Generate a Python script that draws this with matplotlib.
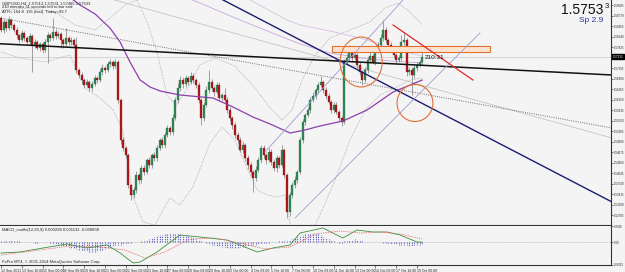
import numpy as np
import matplotlib
matplotlib.use("Agg")
import matplotlib.pyplot as plt
from matplotlib.patches import Rectangle, Ellipse

plt.rcParams['font.family'] = ['Liberation Sans', 'DejaVu Sans']

# ---------------- DATA ----------------
first_open = 1.5870
closes = [
    # 12-16 Sep
    1.5834, 1.5858, 1.5840, 1.5864, 1.5849, 1.5834, 1.5819, 1.5804, 1.5825, 1.5810,
    1.5798, 1.5816, 1.5789, 1.5798, 1.5780, 1.5792, 1.5774, 1.5798, 1.5819, 1.5810,
    1.5828, 1.5816, 1.5822, 1.5804, 1.5792, 1.5810, 1.5798, 1.5804, 1.5789,
    # 19-21 Sep
    1.5714, 1.5699, 1.5684, 1.5669, 1.5678, 1.5660, 1.5672, 1.5690, 1.5684, 1.5708,
    1.5720, 1.5714, 1.5732, 1.5738, 1.5726, 1.5738,
    # 21-28 Sep
    1.5624, 1.5504, 1.5480, 1.5459, 1.5369, 1.5339, 1.5354, 1.5399, 1.5384, 1.5420,
    1.5408, 1.5444, 1.5429, 1.5459, 1.5450, 1.5480, 1.5504, 1.5489, 1.5519, 1.5540,
    1.5528, 1.5570, 1.5624, 1.5660, 1.5684, 1.5672, 1.5690, 1.5678, 1.5696, 1.5684,
    1.5669,
    # 29 Sep - 4 Oct
    1.5624, 1.5570, 1.5609, 1.5654, 1.5678, 1.5660, 1.5648, 1.5669, 1.5630, 1.5639,
    1.5624, 1.5594, 1.5570, 1.5549, 1.5519, 1.5504, 1.5474, 1.5489, 1.5450, 1.5429,
    1.5408, 1.5390, 1.5414, 1.5444,
    # 5-7 Oct
    1.5480, 1.5459, 1.5444, 1.5468, 1.5438, 1.5420, 1.5450, 1.5429, 1.5474, 1.5399,
    1.5288, 1.5339, 1.5369, 1.5384, 1.5408,
    # 7-12 Oct
    1.5504, 1.5558, 1.5579, 1.5594, 1.5624, 1.5636, 1.5654, 1.5669, 1.5678, 1.5654,
    1.5636, 1.5618, 1.5594, 1.5609, 1.5588, 1.5570, 1.5558,
    # 12-19 Oct
    1.5738, 1.5750, 1.5768, 1.5750, 1.5759, 1.5729, 1.5708, 1.5684, 1.5714, 1.5744,
    1.5756, 1.5738, 1.5774, 1.5789, 1.5810, 1.5834, 1.5804, 1.5789, 1.5774, 1.5759,
    1.5744, 1.5750, 1.5798, 1.5804, 1.5708, 1.5714, 1.5699, 1.5720, 1.5729, 1.5738,
    1.5753,
]
# wick lengths in pips beyond the body
upper_wick = [
    5, 8, 6, 12, 6, 5, 8, 4, 10, 6, 5, 8, 6, 9, 5, 7, 6, 10, 8, 6, 42, 8, 10, 6, 5, 30, 6, 8, 5,
    25, 6, 8, 5, 9, 6, 8, 10, 6, 8, 12, 6, 10, 8, 6, 10,
    6, 5, 8, 6, 5, 4, 10, 12, 6, 8, 10, 6, 9, 7, 10, 8, 6, 9, 8, 10, 6, 12, 10, 15, 12, 8, 10, 6, 12, 8, 6,
    8, 6, 10, 12, 36, 8, 6, 10, 8, 6, 21, 8, 10, 6, 8, 10, 8, 12, 6, 8, 10, 6, 12, 10,
    10, 8, 6, 12, 8, 10, 8, 6, 15, 5, 6, 10, 8, 12, 6,
    8, 10, 6, 8, 10, 12, 6, 8, 18, 6, 8, 10, 6, 8, 10, 6, 5,
    10, 12, 21, 8, 10, 6, 8, 6, 10, 8, 12, 6, 10, 8, 12, 30, 8, 6, 10, 8, 6, 10, 21, 24, 6, 10, 8, 10, 8, 6, 21,
]
lower_wick = [
    6, 8, 10, 5, 8, 6, 10, 8, 5, 10, 6, 8, 80, 9, 6, 8, 10, 5, 63, 8, 6, 10, 7, 25, 12, 6, 8, 10, 7,
    8, 10, 12, 8, 6, 10, 8, 6, 9, 6, 8, 10, 6, 8, 9, 6,
    10, 12, 8, 10, 10, 15, 8, 10, 12, 8, 10, 6, 9, 8, 10, 8, 7, 9, 8, 6, 10, 8, 6, 8, 10, 12, 8, 10, 6, 8, 10,
    10, 21, 8, 6, 10, 8, 12, 6, 10, 8, 6, 10, 8, 12, 10, 8, 6, 10, 8, 12, 10, 42, 8, 6,
    8, 10, 12, 6, 10, 8, 12, 10, 6, 10, 18, 12, 8, 10, 8,
    6, 8, 10, 6, 8, 6, 10, 8, 6, 10, 8, 6, 10, 8, 6, 8, 12,
    6, 8, 10, 12, 6, 10, 8, 15, 6, 10, 8, 6, 10, 8, 6, 8, 10, 12, 6, 10, 8, 6, 10, 8, 12, 10, 60, 8, 10, 6, 8,
]
bid = 1.57533

# moving averages (bar, price)
ma_purple_bars = [22.7, 30.4, 36.2, 41.9, 45.8, 49.6, 53.5, 57.3, 61.2, 68.8, 81.5, 89.2, 96.9,
                  103.5, 111.2, 116.9, 122.7, 131.5, 140.8, 150.8, 162.0]
ma_purple_vals = [1.5954, 1.5909, 1.5882, 1.5840, 1.5798, 1.5738, 1.5684, 1.5663, 1.5651, 1.5639,
                  1.5630, 1.5603, 1.5573, 1.5552, 1.5525, 1.5534, 1.5546, 1.5561, 1.5594, 1.5648, 1.5684]
ma_light_a_bars = [68.8, 76.5, 91.9, 115.0, 126.5, 138.1, 149.6, 162.0]
ma_light_a_vals = [1.5939, 1.5915, 1.5864, 1.5792, 1.5765, 1.5750, 1.5741, 1.5735]
ma_light_b_bars = [91.9, 95.8, 110.0, 115.0, 126.5, 138.1, 152.3, 162.0]
ma_light_b_vals = [1.5939, 1.5924, 1.5864, 1.5849, 1.5831, 1.5810, 1.5774, 1.5756]

# envelope bands (bar, price)
band_up_bars = [0, 11.2, 20.8, 28.5, 36.2, 41.9, 47.7, 52.3, 56.2, 60.0, 63.8, 67.3, 71.9, 76.5,
                82.3, 90.0, 97.7, 103.5, 108.1, 111.9, 115.8, 120.8, 126.5, 134.2, 141.9, 147.7,
                152.7, 157.3, 162.0]
band_up_vals = [1.5894, 1.5900, 1.5888, 1.5849, 1.5834, 1.5870, 1.5909, 1.5924, 1.5858, 1.5768,
                1.5639, 1.5609, 1.5660, 1.5729, 1.5750, 1.5726, 1.5660, 1.5600, 1.5564, 1.5594,
                1.5684, 1.5759, 1.5810, 1.5834, 1.5858, 1.5900, 1.5915, 1.5888, 1.5849]
band_lo_bars = [0, 7.3, 16.9, 26.5, 32.3, 38.1, 43.1, 46.9, 50.8, 54.6, 59.2, 62.3, 65.0, 68.8,
                73.8, 80.4, 85.0, 90.0, 94.6, 98.5, 102.3, 106.2, 109.2, 111.9, 115.0, 118.8,
                122.7, 128.5, 134.2, 140.0, 145.8, 151.5, 157.3, 162.0]
band_lo_vals = [1.5768, 1.5750, 1.5738, 1.5759, 1.5660, 1.5630, 1.5594, 1.5534, 1.5333, 1.5258,
                1.5249, 1.5294, 1.5330, 1.5309, 1.5363, 1.5495, 1.5543, 1.5504, 1.5420, 1.5354,
                1.5339, 1.5333, 1.5339, 1.5219, 1.5189, 1.5219, 1.5279, 1.5384, 1.5504, 1.5594,
                1.5639, 1.5660, 1.5684, 1.5690]

# drawn objects (bar, price)
black_trend = ([-1, 235], [1.5793, 1.5699])
navy_trend = ([80, 235], [1.5946, 1.5318])
dotted_trend = ([-1, 235], [1.5871, 1.5540])
light_trend = ([40, 235], [1.5932, 1.5510])
channel_upper = ([101.5, 154.6], [1.5468, 1.5924])
channel_lower = ([113.1, 184.2], [1.5270, 1.5825])
red_trend = ([150.8, 181.5], [1.5849, 1.5684])
zone_bars = (127.3, 188.1)
zone_prices = (1.5768, 1.5786)
circle1 = (138.5, 1.5738, 16.2, 0.0150)
circle2 = (159.2, 1.5615, 13.8, 0.0111)

# MACD panel
macd_hist = [
    1, 1, 1, 1, 2, 1, 1, 1, 0, 0, 0, 0, 0, -1, -1, 0, 0, 0, 0,
    -1, -2, -2, -3, -3, -4, -4, -5, -6, -6, -7, -8, -8, -9, -9, -10, -10, -10, -9, -9, -8, -7, -6, -5,
    -4, -3, -3, -3, -2, -2, -1, -1, 0, 0, 0, 1, 1,
    2, 3, 4, 5, 6, 7, 7, 8, 8, 9, 9, 9, 8, 8, 7, 7, 6, 5, 4, 3, 2,
    1, 0,
    -1, -2, -3, -3, -4, -4, -5, -5, -6, -6, -6, -6, -6, -5, -5, -5, -4, -4, -3, -3, -2, -2,
    -1, -1, -1, 0, 0, 0, 1, 1, 1, 1, 2,
    3, 4, 5, 6, 7, 8, 8, 9, 9, 9, 8, 7,
    5, 4, 3, 2, 1, 0, -1, -1,
    1, 1, 2, 2, 3, 2, 2, 1,
    0, 0, 0, 0, 0, 0, 0, -1,
    -1, -1, -2, -2, -2, -3, -3, -3, -3, -4, -4, -3, -3, -3, -2,
]
macd_line_bars = [0, 7.3, 16.2, 25.4, 33.1, 40.8, 45.8, 50.8, 53.5, 60, 68.8, 76.5, 86.9, 91.9,
                  98.5, 104.6, 111.2, 115, 123.8, 131.5, 136.9, 143.1, 148.5, 153.5, 160, 162]
macd_line_vals = [-0.0011, -0.0010, -0.0006, -0.0002, -0.0006, -0.0003, -0.0011, -0.0021, -0.0020,
                  -0.0010, 0.0007, 0.0005, 0.0002, -0.0003, -0.0010, -0.0006, -0.0003, 0.0009,
                  0.0014, 0.0004, 0.0012, 0.0010, 0.0010, 0.0007, 0.0000, 0.0000]
signal_bars = [0, 15, 26.5, 38, 47.7, 55.4, 63, 72.7, 82.3, 91.9, 101.5, 111.2, 120.8, 130.4,
               138.1, 145.8, 153.5, 162]
signal_vals = [-0.0013, -0.0008, -0.0004, -0.0005, -0.0008, -0.0016, -0.0010, 0.0003, 0.0004,
               -0.0001, -0.0007, -0.0005, 0.0008, 0.0011, 0.0009, 0.0010, 0.0008, 0.0003]

price_ticks = [1.59085, 1.58770, 1.58455, 1.58140, 1.57825, 1.57510, 1.57195, 1.56880, 1.56565,
               1.56250, 1.55935, 1.55620, 1.55305, 1.54990, 1.54675, 1.54360, 1.54045, 1.53730,
               1.53415, 1.53100, 1.52785]
macd_ticks = [0.0016, 0.0, -0.0023]
macd_tick_labels = ['0.0016', '0.00', '-0.0023']
date_tick_bars = list(range(0, 161, 8))
date_labels = ["12 Sep 2011", "13 Sep 16:00", "15 Sep 00:00", "16 Sep 08:00", "19 Sep 16:00",
               "21 Sep 00:00", "22 Sep 08:00", "23 Sep 16:00", "27 Sep 00:00", "28 Sep 08:00",
               "29 Sep 16:00", "3 Oct 00:00", "4 Oct 08:00", "5 Oct 16:00", "7 Oct 00:00",
               "10 Oct 08:00", "11 Oct 16:00", "13 Oct 00:00", "14 Oct 08:00", "17 Oct 16:00",
               "19 Oct 00:00"]

# ---------------- FIGURE ----------------
W, H = 625, 272
BG = '#f4f4f4'
fig = plt.figure(figsize=(W / 100, H / 100), dpi=100, facecolor=BG)


def box(x0, y0, x1, y1):
    return [x0 / W, 1 - y1 / H, (x1 - x0) / W, (y1 - y0) / H]


ax = fig.add_axes(box(0, 0, 611, 225))
axm = fig.add_axes(box(0, 226, 611, 265))
XL = (-0.385, 234.6)
for a in (ax, axm):
    a.set_facecolor(BG)
    a.set_xlim(*XL)
    for s in ('left', 'top'):
        a.spines[s].set_visible(False)
    for s in ('right', 'bottom'):
        a.spines[s].set_color('#333333')
        a.spines[s].set_linewidth(0.8)
ax.set_ylim(1.5249, 1.5924)
axm.set_ylim(-0.0023, 0.0016)

# candles
c = np.array(closes)
n = len(c)
x = np.arange(n)
o = np.r_[first_open, c[:-1]]
hi = np.maximum(o, c) + np.array(upper_wick[:n]) * 1e-4
lo = np.minimum(o, c) - np.array(lower_wick[:n]) * 1e-4
ax.vlines(x, lo, hi, color='#7a7a7a', lw=0.5, zorder=3)
h = c - o
h = np.where(np.abs(h) < 0.00006, 0.00006, h)
up = c >= o
ax.bar(x[up], h[up], bottom=o[up], width=0.72, color='#2f8a58', edgecolor='#1d5a38', lw=0.2, zorder=4)
ax.bar(x[~up], h[~up], bottom=o[~up], width=0.72, color='#b3191c', edgecolor='#6e1010', lw=0.2, zorder=4)

# bid line
ax.axhline(bid, color='#c9c9c9', lw=0.5, zorder=1)

# indicators
ax.plot(band_up_bars, band_up_vals, color='#9a9a9a', lw=0.5, ls=(0, (1, 1.2)), zorder=2)
ax.plot(band_lo_bars, band_lo_vals, color='#9a9a9a', lw=0.5, ls=(0, (1, 1.2)), zorder=2)
ax.plot(ma_light_a_bars, ma_light_a_vals, color='#c9a6db', lw=0.6, zorder=2)
ax.plot(ma_light_b_bars, ma_light_b_vals, color='#d7bfe3', lw=0.6, zorder=2)
ax.plot(ma_purple_bars, ma_purple_vals, color='#8e3fb0', lw=0.9, zorder=5)

# drawn objects
ax.plot(*light_trend, color='#c4c4c4', lw=0.6, zorder=2)
ax.plot(*dotted_trend, color='#6e6e6e', lw=0.7, ls=(0, (1, 1.3)), zorder=2)
ax.plot(*black_trend, color='#111111', lw=1.1, zorder=6)
ax.plot(*navy_trend, color='#1c1c72', lw=1.0, zorder=6)
ax.plot(*channel_upper, color='#9c9cd2', lw=0.6, zorder=6)
ax.plot(*channel_lower, color='#9c9cd2', lw=0.6, zorder=6)
ax.plot(*red_trend, color='#e02a2a', lw=0.9, zorder=6)
ax.add_patch(Rectangle((zone_bars[0], zone_prices[0]), zone_bars[1] - zone_bars[0],
                       zone_prices[1] - zone_prices[0], facecolor='#fde3cf',
                       edgecolor='#e0702e', lw=0.8, zorder=5))
for cx, cy, cw, ch in (circle1, circle2):
    ax.add_patch(Ellipse((cx, cy), cw, ch, fill=False, edgecolor='#e0703a', lw=0.8, zorder=7))
ax.text(163.0, 1.5751, '210:31', fontsize=4.6, color='#111111', va='center', ha='left', zorder=8)

# price axis
ax.yaxis.tick_right()
ax.set_yticks(price_ticks)
ax.set_yticklabels([f'{v:.5f}' for v in price_ticks])
ax.tick_params(axis='y', labelsize=2.1, length=1.5, width=0.4, pad=0.5, colors='#222222')
ax.set_xticks([])
ax.text(1.003, bid, f'{bid:.5f}', transform=ax.get_yaxis_transform(), fontsize=2.1,
        color='white', va='center', ha='left', clip_on=False, zorder=10,
        bbox=dict(boxstyle='square,pad=0.2', fc='black', ec='black'))

# MACD panel
xm = np.arange(len(macd_hist))
axm.axhline(0, color='#9a9a9a', lw=0.4, ls=(0, (1.5, 1.5)))
axm.vlines(xm, 0, np.array(macd_hist) * 1e-4, colors='#6c6cc8', lw=0.8, linestyles=(0, (1.2, 0.8)))
axm.plot(macd_line_bars, macd_line_vals, color='#3d8f3d', lw=0.6)
axm.plot(signal_bars, signal_vals, color='#e07070', lw=0.6, ls=(0, (1.5, 1.2)))
axm.yaxis.tick_right()
axm.set_yticks(macd_ticks)
axm.set_yticklabels(macd_tick_labels)
axm.tick_params(axis='y', labelsize=2.1, length=1.5, width=0.4, pad=0.5, colors='#222222')
axm.set_xticks(date_tick_bars)
axm.set_xticklabels(date_labels)
axm.tick_params(axis='x', labelsize=2.5, length=2, width=0.4, pad=0.6, colors='#222222')
for lb in axm.get_xticklabels():
    lb.set_ha('left')

# texts
fig.text(2 / W, 1 - 3.5 / H, 'GBPUSD,H4  1.57513 1.57531 1.57485 1.57533', fontsize=3, va='center', color='#222222')
fig.text(2 / W, 1 - 7.5 / H, '210 minutes 31 seconds left to bar end', fontsize=3, va='center', color='#222222')
fig.text(2 / W, 1 - 11.5 / H, 'ATR= 164.8  135 (fast)  Today=93.7', fontsize=3, va='center', color='#222222')
fig.text(603 / W, 1 - 9.5 / H, '1.5753', fontsize=10, ha='right', va='center', color='#111111')
fig.text(604.5 / W, 1 - 6 / H, '3', fontsize=5.5, ha='left', va='center', color='#111111')
fig.text(603 / W, 1 - 20 / H, 'Sp 2.9', fontsize=6, ha='right', va='center', color='#2e2e9e')
fig.text(2 / W, 1 - 230 / H, 'MACD_coolfx(12,26,9) 0.000294 0.001132 -0.000838', fontsize=3, va='center', color='#222222')
fig.text(2 / W, 1 - 262 / H, 'FxPro MT4, \u00a9 2001-2014 MetaQuotes Software Corp.', fontsize=3, va='center', color='#222222')

fig.savefig('out.png', dpi=100, facecolor=BG)
